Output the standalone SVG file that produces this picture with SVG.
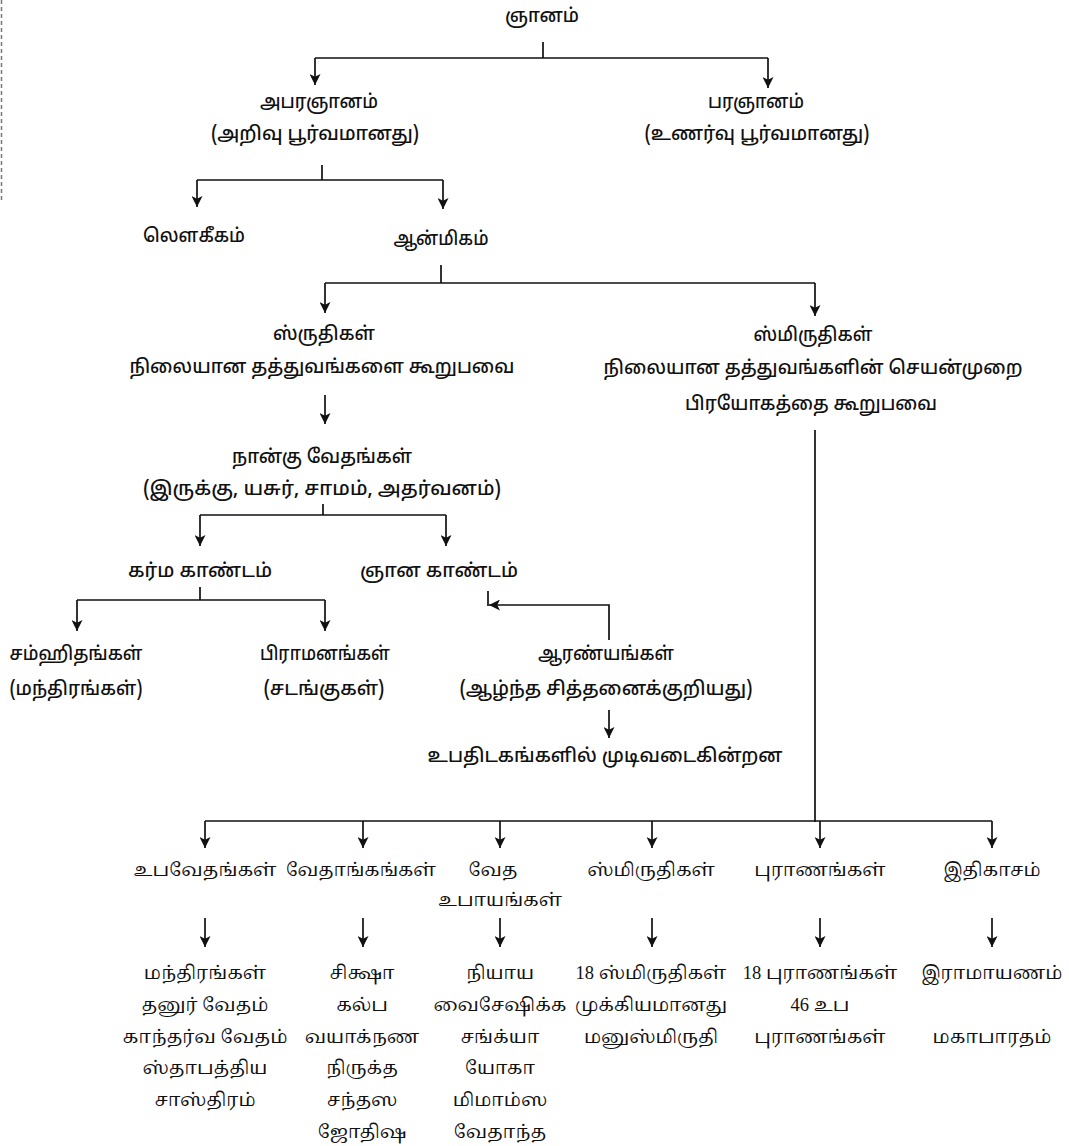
<svg xmlns="http://www.w3.org/2000/svg" width="1069" height="1146" viewBox="0 0 1069 1146">
<style>
.t{font-family:"Noto Sans Tamil","Noto Sans","DejaVu Sans",sans-serif;font-size:19px;font-weight:500;fill:#111;text-anchor:middle;dominant-baseline:central}
.b{font-family:"Liberation Serif","Noto Serif Tamil","Noto Sans Tamil",serif;font-size:18.5px;fill:#111;text-anchor:middle;dominant-baseline:central}
.c{fill:none;stroke:#111;stroke-width:1.7}
</style>
<defs>
<marker id="ah" viewBox="0 0 10 10" refX="10" refY="5" markerWidth="16" markerHeight="11" markerUnits="userSpaceOnUse" orient="auto">
<path d="M0,0 L10,5 L0,10 L2.5,5 z" fill="#111"/>
</marker>
</defs>
<rect width="1069" height="1146" fill="#fff"/>
<line x1="1.5" y1="0" x2="1.5" y2="200" stroke="#777" stroke-width="1.5" stroke-dasharray="4,3"/>
<g id="connectors">
<path class="c" d="M543,42 V58 M315,58 H768"/>
<path class="c" d="M315,58 V85" marker-end="url(#ah)"/>
<path class="c" d="M768,58 V88" marker-end="url(#ah)"/>
<path class="c" d="M322,165 V180 M197,180 H443"/>
<path class="c" d="M197,180 V207" marker-end="url(#ah)"/>
<path class="c" d="M443,180 V209" marker-end="url(#ah)"/>
<path class="c" d="M441,265 V283 M325,283 H815"/>
<path class="c" d="M325,283 V313" marker-end="url(#ah)"/>
<path class="c" d="M815,283 V316" marker-end="url(#ah)"/>
<path class="c" d="M325,395 V424" marker-end="url(#ah)"/>
<path class="c" d="M323,504 V515 M200,515 H446"/>
<path class="c" d="M200,515 V546" marker-end="url(#ah)"/>
<path class="c" d="M446,515 V546" marker-end="url(#ah)"/>
<path class="c" d="M200,587 V600 M77,600 H325"/>
<path class="c" d="M77,600 V631" marker-end="url(#ah)"/>
<path class="c" d="M325,600 V631" marker-end="url(#ah)"/>
<path class="c" d="M609,640 V605 H489" marker-end="url(#ah)"/>
<path class="c" d="M488,591 V606"/>
<path class="c" d="M609,710 V738" marker-end="url(#ah)"/>
<path class="c" d="M815,430 V822 M205,821 H992"/>
<path class="c" d="M205,821 V848" marker-end="url(#ah)"/>
<path class="c" d="M363,821 V848" marker-end="url(#ah)"/>
<path class="c" d="M500,821 V848" marker-end="url(#ah)"/>
<path class="c" d="M652,821 V848" marker-end="url(#ah)"/>
<path class="c" d="M820,821 V848" marker-end="url(#ah)"/>
<path class="c" d="M992,821 V848" marker-end="url(#ah)"/>
<path class="c" d="M205,918 V947" marker-end="url(#ah)"/>
<path class="c" d="M363,918 V947" marker-end="url(#ah)"/>
<path class="c" d="M500,918 V947" marker-end="url(#ah)"/>
<path class="c" d="M652,918 V947" marker-end="url(#ah)"/>
<path class="c" d="M820,918 V947" marker-end="url(#ah)"/>
<path class="c" d="M992,918 V947" marker-end="url(#ah)"/>
</g>
<g id="n-gnanam"><text class="t" x="542" y="17" textLength="74" lengthAdjust="spacingAndGlyphs">ஞானம்</text></g>
<g id="n-aparagnanam"><text class="t" x="319" y="103" textLength="118" lengthAdjust="spacingAndGlyphs">அபரஞானம்</text><text class="t" x="315" y="135" textLength="208" lengthAdjust="spacingAndGlyphs">(அறிவு பூர்வமானது)</text></g>
<g id="n-paragnanam"><text class="t" x="756" y="103" textLength="96" lengthAdjust="spacingAndGlyphs">பரஞானம்</text><text class="t" x="757" y="135" textLength="225" lengthAdjust="spacingAndGlyphs">(உணர்வு பூர்வமானது)</text></g>
<g id="n-laukikam"><text class="t" x="194" y="237" textLength="102" lengthAdjust="spacingAndGlyphs">லௌகீகம்</text></g>
<g id="n-anmikam"><text class="t" x="441" y="240" textLength="95" lengthAdjust="spacingAndGlyphs">ஆன்மிகம்</text></g>
<g id="n-sruthikal"><text class="t" x="324" y="335" textLength="102" lengthAdjust="spacingAndGlyphs">ஸ்ருதிகள்</text><text class="t" x="322" y="368" textLength="385" lengthAdjust="spacingAndGlyphs">நிலையான தத்துவங்களை கூறுபவை</text></g>
<g id="n-smiruthikal"><text class="t" x="813" y="336" textLength="119" lengthAdjust="spacingAndGlyphs">ஸ்மிருதிகள்</text><text class="t" x="813" y="369" textLength="419" lengthAdjust="spacingAndGlyphs">நிலையான தத்துவங்களின் செயன்முறை</text><text class="t" x="811" y="405" textLength="252" lengthAdjust="spacingAndGlyphs">பிரயோகத்தை கூறுபவை</text></g>
<g id="n-vedas"><text class="t" x="322" y="458" textLength="180" lengthAdjust="spacingAndGlyphs">நான்கு வேதங்கள்</text><text class="t" x="322" y="490" textLength="358" lengthAdjust="spacingAndGlyphs">(இருக்கு, யசுர், சாமம், அதர்வனம்)</text></g>
<g id="n-karma"><text class="t" x="200" y="572" textLength="144" lengthAdjust="spacingAndGlyphs">கர்ம காண்டம்</text></g>
<g id="n-gnana"><text class="t" x="439" y="572" textLength="158" lengthAdjust="spacingAndGlyphs">ஞான காண்டம்</text></g>
<g id="n-samhitha"><text class="t" x="76" y="655" textLength="133" lengthAdjust="spacingAndGlyphs">சம்ஹிதங்கள்</text><text class="t" x="76" y="690" textLength="133" lengthAdjust="spacingAndGlyphs">(மந்திரங்கள்)</text></g>
<g id="n-brahmana"><text class="t" x="325" y="655" textLength="130" lengthAdjust="spacingAndGlyphs">பிராமனங்கள்</text><text class="t" x="324" y="690" textLength="121" lengthAdjust="spacingAndGlyphs">(சடங்குகள்)</text></g>
<g id="n-aranya"><text class="t" x="606" y="655" textLength="136" lengthAdjust="spacingAndGlyphs">ஆரண்யங்கள்</text><text class="t" x="606" y="690" textLength="293" lengthAdjust="spacingAndGlyphs">(ஆழ்ந்த சித்தனைக்குறியது)</text></g>
<g id="n-upanishad"><text class="t" x="605" y="757" textLength="355" lengthAdjust="spacingAndGlyphs">உபதிடகங்களில் முடிவடைகின்றன</text></g>
<g id="n-upaveda"><text class="b" x="205" y="870" textLength="143" lengthAdjust="spacingAndGlyphs">உபவேதங்கள்</text></g>
<g id="n-vedanga"><text class="b" x="361" y="870" textLength="150" lengthAdjust="spacingAndGlyphs">வேதாங்கங்கள்</text></g>
<g id="n-vedaupaya"><text class="b" x="493" y="870">வேத</text><text class="b" x="500" y="900">உபாயங்கள்</text></g>
<g id="n-smriti2"><text class="b" x="651" y="870">ஸ்மிருதிகள்</text></g>
<g id="n-purana"><text class="b" x="820" y="870">புராணங்கள்</text></g>
<g id="n-ithikasa"><text class="b" x="992" y="870">இதிகாசம்</text></g>
<g id="n-upaveda-list"><text class="b" x="205" y="973">மந்திரங்கள்</text><text class="b" x="205" y="1005">தனுர் வேதம்</text><text class="b" x="205" y="1037" textLength="165" lengthAdjust="spacingAndGlyphs">காந்தர்வ வேதம்</text><text class="b" x="205" y="1068">ஸ்தாபத்திய</text><text class="b" x="205" y="1100">சாஸ்திரம்</text></g>
<g id="n-vedanga-list"><text class="b" x="362" y="973">சிக்ஷா</text><text class="b" x="362" y="1005">கல்ப</text><text class="b" x="362" y="1037">வயாக்நண</text><text class="b" x="362" y="1068">நிருக்த</text><text class="b" x="362" y="1100">சந்தஸ</text><text class="b" x="362" y="1132">ஜோதிஷ</text></g>
<g id="n-darshana-list"><text class="b" x="500" y="973">நியாய</text><text class="b" x="500" y="1005">வைசேஷிக்க</text><text class="b" x="500" y="1037">சங்க்யா</text><text class="b" x="500" y="1068">யோகா</text><text class="b" x="500" y="1100">மிமாம்ஸ</text><text class="b" x="500" y="1132">வேதாந்த</text></g>
<g id="n-smriti-list"><text class="b" x="651" y="973">18 ஸ்மிருதிகள்</text><text class="b" x="651" y="1005">முக்கியமானது</text><text class="b" x="651" y="1037">மனுஸ்மிருதி</text></g>
<g id="n-purana-list"><text class="b" x="820" y="973">18 புராணங்கள்</text><text class="b" x="820" y="1005">46 உப</text><text class="b" x="820" y="1037">புராணங்கள்</text></g>
<g id="n-ithikasa-list"><text class="b" x="992" y="973">இராமாயணம்</text><text class="b" x="992" y="1037">மகாபாரதம்</text></g>
</svg>
